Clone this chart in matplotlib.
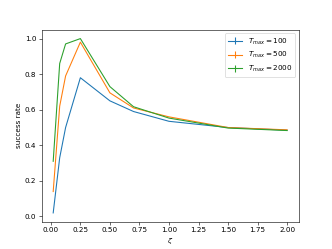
import numpy as np
import matplotlib
matplotlib.use("Agg")
import matplotlib.pyplot as plt

# zeta values and success rates
zeta = [0.02, 0.075, 0.125, 0.25, 0.5, 0.7, 1.0, 1.5, 2.0]
rate_100 = [0.02, 0.33, 0.50, 0.78, 0.65, 0.59, 0.535, 0.50, 0.485]
rate_500 = [0.14, 0.62, 0.79, 0.98, 0.695, 0.61, 0.56, 0.50, 0.487]
rate_2000 = [0.31, 0.86, 0.97, 1.0, 0.73, 0.617, 0.553, 0.497, 0.483]
labels = [r'$T_{max} = 100$', r'$T_{max} = 500$', r'$T_{max} = 2000$']

fig, ax = plt.subplots(figsize=(6.4, 4.8), dpi=51.875)

for rates, lab in zip([rate_100, rate_500, rate_2000], labels):
    ax.errorbar(zeta, rates, yerr=np.zeros(len(rates)), label=lab)

ax.set_xlabel(r'$\zeta$')
ax.set_ylabel('success rate')
ax.legend(loc='upper right')

plt.savefig('out.png', dpi=51.875)
